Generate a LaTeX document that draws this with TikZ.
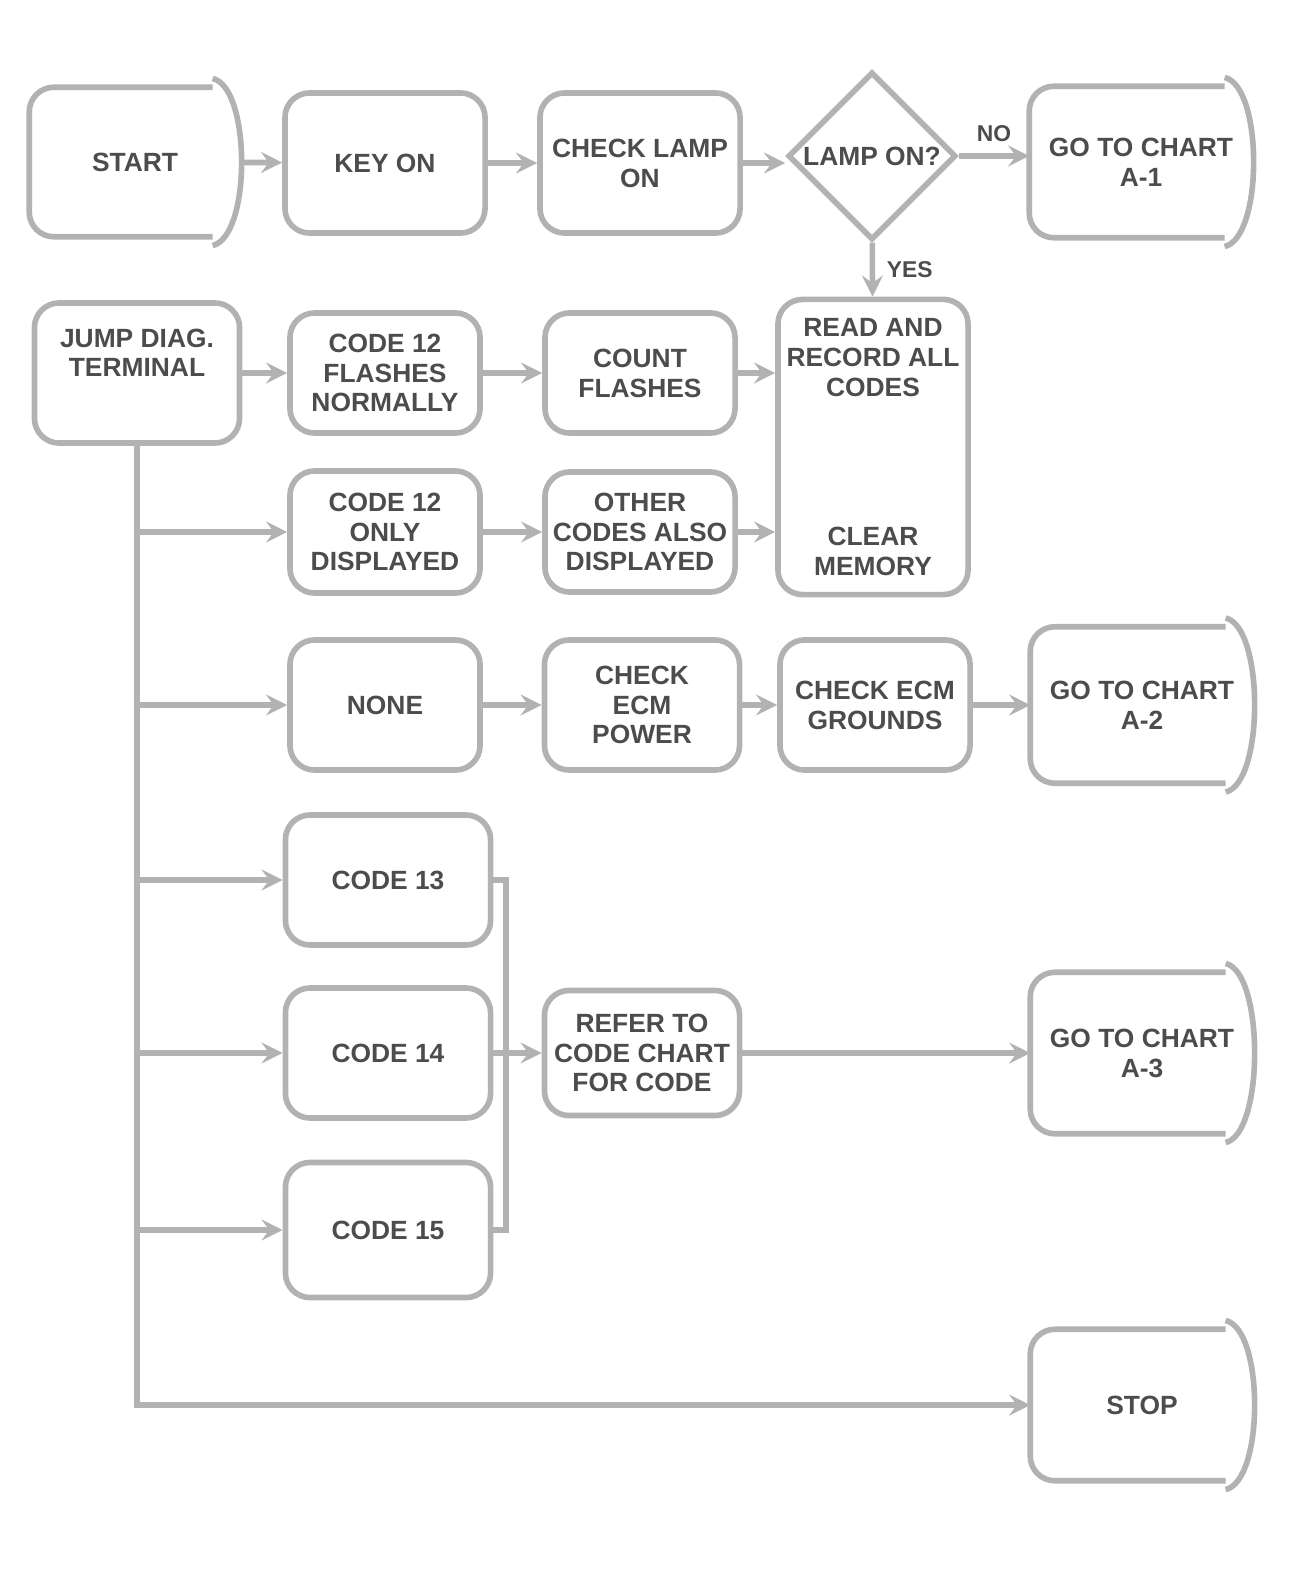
\documentclass[tikz,border=0pt]{standalone}
\usepackage{fontspec}
\setmainfont{Liberation Sans}
\usetikzlibrary{shapes.geometric}
\definecolor{linegray}{gray}{0.7}
\definecolor{inkgray}{gray}{0.3}
\tikzset{
  box/.style={draw=linegray, line width=1.6pt, rounded corners=7pt, align=center,
    font=\fontsize{7.5}{8.5}\selectfont\bfseries, text=inkgray, inner sep=2pt},
  termbox/.style={align=center, font=\fontsize{7.5}{8.5}\selectfont\bfseries,
    text=inkgray, inner sep=2pt},
  askbox/.style={diamond, draw=linegray, line width=1.6pt, align=center, inner sep=0pt,
    font=\fontsize{7.5}{8.5}\selectfont\bfseries, text=inkgray},
  outline/.style={draw=linegray, line width=1.6pt},
  wire/.style={linegray, line width=1.6pt},
  link/.style={wire, ->, >=stealth},
  tag/.style={font=\fontsize{6.5}{7}\selectfont\bfseries, text=inkgray}
}

\begin{document}
\begin{tikzpicture}[x=0.01cm, y=-0.01cm]
  \useasboundingbox (0,0) rectangle (1313,1585);

  % top row
  \node[termbox, minimum width=2.1cm, minimum height=1.48cm] (start) at (135,162) {START};
  \node[box, minimum width=2cm, minimum height=1.4cm] (keyon) at (385,163) {KEY ON};
  \node[box, minimum width=2cm, minimum height=1.4cm] (lamp) at (640,163) {CHECK LAMP\\ON};
  \node[askbox, minimum width=1.68cm, minimum height=1.68cm] (lampon) at (872,156) {LAMP ON?};
  \node[termbox, minimum width=2.22cm, minimum height=1.5cm] (goA) at (1141,162) {GO TO CHART\\A-1};

  % second and third rows
  \node[box, minimum width=2.05cm, minimum height=1.4cm] (diag) at (137,373) {JUMP DIAG.\\TERMINAL\\[3pt]~};
  \node[box, minimum width=1.9cm, minimum height=1.2cm] (flash) at (385,373) {CODE 12\\FLASHES\\NORMALLY};
  \node[box, minimum width=1.9cm, minimum height=1.2cm] (count) at (640,373) {COUNT\\FLASHES};
  \node[box, minimum width=1.9cm, minimum height=2.95cm] (record) at (873,447) {READ AND\\RECORD ALL\\CODES\\[34pt]CLEAR\\MEMORY};
  \node[box, minimum width=1.9cm, minimum height=1.22cm] (only) at (385,532) {CODE 12\\ONLY\\DISPLAYED};
  \node[box, minimum width=1.9cm, minimum height=1.2cm] (other) at (640,532) {OTHER\\CODES ALSO\\DISPLAYED};

  % fourth row
  \node[box, minimum width=1.9cm, minimum height=1.3cm] (none) at (385,705) {NONE};
  \node[box, minimum width=1.95cm, minimum height=1.3cm] (power) at (642,705) {CHECK\\ECM\\POWER};
  \node[box, minimum width=1.9cm, minimum height=1.3cm] (ground) at (875,705) {CHECK ECM\\GROUNDS};
  \node[termbox, minimum width=2.22cm, minimum height=1.55cm] (goB) at (1142,705) {GO TO CHART\\A-2};

  % code rows
  \node[box, minimum width=2.05cm, minimum height=1.3cm] (codeA) at (388,880) {CODE 13};
  \node[box, minimum width=2.05cm, minimum height=1.3cm] (codeB) at (388,1053) {CODE 14};
  \node[box, minimum width=1.95cm, minimum height=1.25cm] (charts) at (642,1053) {REFER TO\\CODE CHART\\FOR CODE};
  \node[termbox, minimum width=2.22cm, minimum height=1.6cm] (goC) at (1142,1053) {GO TO CHART\\A-3};
  \node[box, minimum width=2.05cm, minimum height=1.35cm] (codeC) at (388,1230) {CODE 15};
  \node[termbox, minimum width=2.22cm, minimum height=1.5cm] (stop) at (1142,1405) {STOP};

  % end boxes with a bowed right side
  \foreach \n in {start,goA,goB,goC,stop}{
    \draw[outline, rounded corners=7pt] ([xshift=-8pt]\n.north east) -- (\n.north west)
      -- (\n.south west) -- ([xshift=-8pt]\n.south east);
    \draw[outline] ([xshift=-8pt,yshift=2.5pt]\n.north east)
      .. controls ([xshift=3pt]\n.north east) and ([xshift=3pt]\n.south east)
      .. ([xshift=-8pt,yshift=-2.5pt]\n.south east);
  }

  % connectors
  \draw[link] (start) -- (keyon);
  \draw[link] (keyon) -- (lamp);
  \draw[link] (lamp.east) -- (lamp.east -| lampon.west);
  \draw[link] (lampon.east) -- node[tag, above]{NO} (lampon.east -| goA.west);
  \draw[link] (lampon) -- node[tag, right]{YES} (record);
  \draw[link] (diag) -- (flash);
  \draw[link] (flash) -- (count);
  \draw[link] (count) -- (record.west |- count);
  \draw[link] (only) -- (other);
  \draw[link] (other) -- (record.west |- other);
  \draw[link] (none) -- (power);
  \draw[link] (power) -- (ground);
  \draw[link] (ground) -- (goB);

  % trunk down the left side
  \draw[link] (diag.south) -- (diag.south |- stop.west) -- (stop.west);
  \foreach \n in {only,none,codeA,codeB,codeC}
    \draw[link] (diag.south |- \n.west) -- (\n.west);

  % code boxes joined to the chart box
  \coordinate (bustop) at (506,880);
  \coordinate (busbot) at (506,1230);
  \draw[wire] (codeA.east) -- (bustop) -- (busbot) -- (codeC.east);
  \draw[link] (codeB.east) -- (charts.west);
  \draw[link] (charts) -- (goC);
\end{tikzpicture}
\end{document}
